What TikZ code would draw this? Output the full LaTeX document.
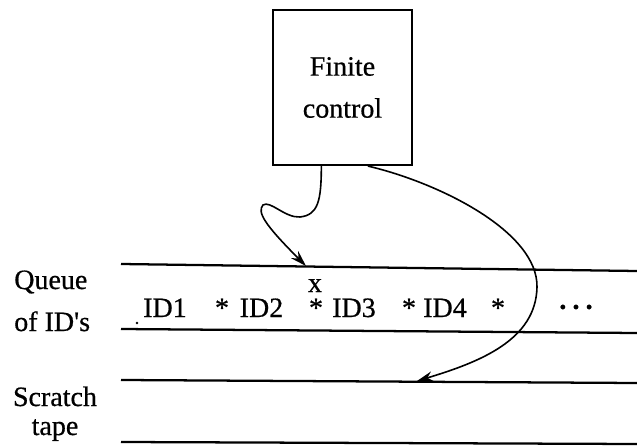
\documentclass[tikz,border=0pt]{standalone}
\usepackage{fontspec}
\setmainfont{Liberation Serif}[FakeBold=0.6]
\usetikzlibrary{arrows.meta,calc}
\begin{document}
\begin{tikzpicture}[x=0.75pt,y=-0.75pt,
  txt/.style={inner sep=0pt, font=\fontsize{21}{31.5}\selectfont},
  tapeline/.style={line width=1.7pt},
  ptr/.style={line width=1.2pt, -{Stealth[length=12pt,width=7.5pt]}},
]
\useasboundingbox[fill=white] (0,0) rectangle (637,446);

% finite control box
\node[draw, line width=1.6pt, inner sep=0pt, minimum width=104.25pt,
      minimum height=116.25pt, align=center, txt] (fc) at (342.5,87.5)
      {Finite\\control};

% queue tape and scratch tape
\draw[tapeline] (121,264) -- (637,271);
\draw[tapeline] (121,329) -- (637,333);
\draw[tapeline] (121,380) -- (637,383);
\draw[tapeline] (121,442) -- (637,444);

% tape labels (base anchor sits on the last line)
\node[txt, anchor=base west, align=left] (qlbl) at (14,331)
  {Queue\\of ID\textquotesingle s};
\node[txt, font=\fontsize{21}{21.75}\selectfont, anchor=base, align=center]
  (slbl) at (55,435) {Scratch\\tape};

% contents of the queue
\node[txt, anchor=base] (id1) at (165,317) {ID1};
\node[txt, anchor=base] (s1) at (222,317) {*};
\node[txt, anchor=base] (id2) at (261.5,317) {ID2};
\node[txt, anchor=base] (mark) at (315,292) {x};
\node[txt, anchor=base] (s2) at (316,317) {*};
\node[txt, anchor=base] (id3) at (354,317) {ID3};
\node[txt, anchor=base] (s3) at (409,317) {*};
\node[txt, anchor=base] (id4) at (445,317) {ID4};
\node[txt, anchor=base] (s4) at (498,317) {*};
\node[txt, font=\fontsize{29}{30}\selectfont, anchor=center] (more)
  at (576,307) {.\hspace{2.6pt}.\hspace{2.6pt}.};
\fill (137,323) circle (1.3);

% heads of the finite control
\coordinate (qhead) at (306,266);
\coordinate (shead) at (417,381);
\draw[ptr] ($(fc.south west)!0.35!(fc.south east)$)
  .. controls +(0,35) and (318,215) .. (300,217)
  .. controls (285,218) and (270,200) .. (263,205)
  .. controls (257,212) and (264,224) .. (qhead);
\draw[ptr] ($(fc.south west)!0.68!(fc.south east)$)
  .. controls (440,183) and (538,232) .. (537,287)
  .. controls (536,340) and (480,362) .. (shead);
\end{tikzpicture}
\end{document}
